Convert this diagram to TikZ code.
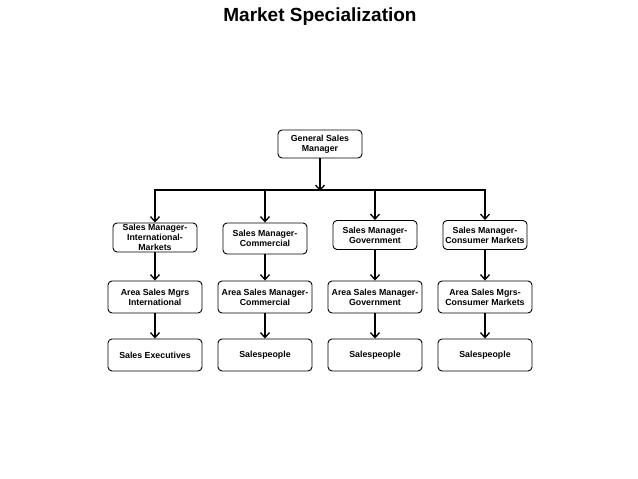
\documentclass[tikz,border=0pt]{standalone}
\usepackage{fontspec}
\setmainfont{Liberation Sans}
\usetikzlibrary{arrows.meta}

\begin{document}
\begin{tikzpicture}[x=1pt, y=-1pt, line join=round, >={Straight Barb[length=5pt, width=9pt, line width=1.3pt]},
    box/.style={draw, line width=0.9pt, rounded corners=4pt, align=center, inner xsep=1pt, inner ysep=0pt,
        font=\fontsize{8.8}{10}\selectfont\bfseries},
    mgr/.style={box, minimum width=84pt, minimum height=29pt},
    area/.style={box, minimum width=94pt, minimum height=32pt},
    link/.style={line width=1.8pt, ->}]
    \useasboundingbox (0,0) rectangle (638,479);
    \node[font=\fontsize{19}{22}\selectfont\bfseries] (title) at (320,17) {Market Specialization};
    % top
    \node[box, minimum width=84pt, minimum height=28pt] (gsm) at (320,144) {General Sales\\Manager};
    \path
    (320,190) coordinate (bus)
    (155,190) coordinate (busL)
    (485,190) coordinate (busR)
    ;
    % managers
    \node[mgr] (smi) at (155,237.5) {Sales Manager-\\International-\\Markets};
    \node[mgr, minimum height=31pt] (smc) at (265,238.5) {Sales Manager-\\Commercial};
    \node[mgr] (smg) at (375,235) {Sales Manager-\\Government};
    \node[mgr] (smcm) at (485,235) {Sales Manager-\\Consumer Markets};
    % area managers
    \node[area] (asi) at (155,297) {Area Sales Mgrs\\International};
    \node[area] (asc) at (265,297) {Area Sales Manager-\\Commercial};
    \node[area] (asg) at (375,297) {Area Sales Manager-\\Government};
    \node[area] (ascm) at (485,297) {Area Sales Mgrs-\\Consumer Markets};
    % sales force
    \node[area] (sei) at (155,355) {Sales Executives};
    \node[area] (spc) at (265,355) {Salespeople};
    \node[area] (spg) at (375,355) {Salespeople};
    \node[area] (spcm) at (485,355) {Salespeople};

    \draw[line width=1.8pt, line cap=rect] (busL) -- (busR);
    \draw[line width=2.8pt, ->] (gsm) -- ([yshift=-1pt]bus);
    \foreach \i in {smi, smc, smg, smcm}{
        \draw[link] (\i |- bus) -- (\i);
    }
    \foreach \i/\j in {smi/asi, smc/asc, smg/asg, smcm/ascm, asi/sei, asc/spc, asg/spg, ascm/spcm}{
        \draw[link] (\i) -- (\j);
    }
\end{tikzpicture}
\end{document}
